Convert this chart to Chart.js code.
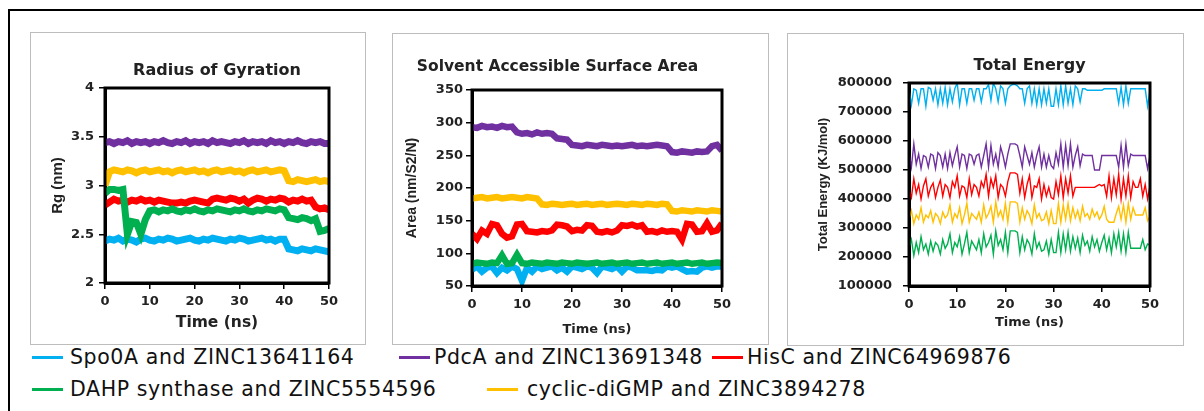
<!DOCTYPE html>
<html>
<head>
<meta charset="utf-8">
<script src="https://cdn.jsdelivr.net/npm/chart.js@4.4.1/dist/chart.umd.min.js"></script>
<style>
  body { margin: 0; background: #fff; width: 1204px; height: 411px; overflow: hidden; position: relative; font-family: "DejaVu Sans", sans-serif; }
  .outer { position: absolute; left: 8px; top: 9px; width: 1300px; height: 500px; border-left: 2.5px solid #000; border-top: 2.5px solid #000; }
  .panel { position: absolute; box-sizing: border-box; border: 1px solid #bdbdbd; background: #fff; }
  .leg { position: absolute; font-size: 20.5px; line-height: 24px; letter-spacing: 0.6px; color: #111; white-space: nowrap; }
  .leg i { display: inline-block; width: 31px; height: 3px; vertical-align: middle; margin-right: 4px; margin-top: -2px; }
</style>
</head>
<body>
<div class="outer"></div>
<div class="panel" style="left:30px;top:32px;width:336px;height:313px"><canvas id="rgChart"></canvas></div>
<div class="panel" style="left:392px;top:33px;width:377px;height:312px"><canvas id="sasaChart"></canvas></div>
<div class="panel" style="left:787px;top:33px;width:397px;height:313px"><canvas id="energyChart"></canvas></div>

<div class="leg" style="left:32px;top:345px"><i style="background:#00B0F0;margin-right:7px"></i>Spo0A and ZINC13641164</div>
<div class="leg" style="left:399px;top:345px"><i style="background:#7030A0"></i>PdcA and ZINC13691348</div>
<div class="leg" style="left:712px;top:345px"><i style="background:#FF0000"></i>HisC and ZINC64969876</div>
<div class="leg" style="left:32px;top:377px"><i style="background:#00B050;margin-right:7px"></i>DAHP synthase and ZINC5554596</div>
<div class="leg" style="left:487px;top:377px"><i style="background:#FFC000;margin-right:9px"></i>cyclic-diGMP and ZINC3894278</div>

<script>
// time axis (ns)
const timeNs = [0,1,2,3,4,5,6,7,8,9,10,11,12,13,14,15,16,17,18,19,20,21,22,23,24,25,26,27,28,29,30,
  31,32,33,34,35,36,37,38,39,40,41,42,43,44,45,46,47,48,49,50];
const timeHalfNs = [0,0.5,1,1.5,2,2.5,3,3.5,4,4.5,5,5.5,6,6.5,7,7.5,8,8.5,9,9.5,
  10,10.5,11,11.5,12,12.5,13,13.5,14,14.5,15,15.5,16,16.5,17,17.5,18,18.5,19,19.5,
  20,20.5,21,21.5,22,22.5,23,23.5,24,24.5,25,25.5,26,26.5,27,27.5,28,28.5,29,29.5,
  30,30.5,31,31.5,32,32.5,33,33.5,34,34.5,35,35.5,36,36.5,37,37.5,38,38.5,39,39.5,
  40,40.5,41,41.5,42,42.5,43,43.5,44,44.5,45,45.5,46,46.5,47,47.5,48,48.5,49,49.5,50];

const timeTicks = [0, 10, 20, 30, 40, 50];
const rgTicks = [2, 2.5, 3, 3.5, 4];
const sasaTicks = [50, 100, 150, 200, 250, 300, 350];
const energyTicks = [100000, 200000, 300000, 400000, 500000, 600000, 700000, 800000];

// Radius of gyration (nm)
const spo0aRg = [2.43,2.45,2.44,2.46,2.43,2.45,2.44,2.42,2.45,2.46,
  2.44,2.43,2.45,2.44,2.46,2.45,2.43,2.44,2.45,2.46,
  2.44,2.43,2.45,2.44,2.46,2.45,2.44,2.43,2.45,2.44,
  2.46,2.45,2.43,2.44,2.45,2.46,2.44,2.45,2.43,2.45,
  2.45,2.35,2.34,2.33,2.35,2.34,2.33,2.35,2.34,2.33,2.32];
const pdcaRg = [3.44,3.45,3.43,3.45,3.44,3.46,3.43,3.45,3.44,3.45,
  3.43,3.45,3.44,3.46,3.44,3.43,3.45,3.44,3.46,3.43,
  3.45,3.44,3.45,3.43,3.46,3.44,3.45,3.44,3.43,3.45,
  3.44,3.46,3.43,3.45,3.44,3.45,3.43,3.46,3.44,3.45,
  3.43,3.45,3.44,3.46,3.44,3.43,3.45,3.44,3.45,3.43,3.43];
const hiscRg = [2.80,2.83,2.86,2.84,2.85,2.83,2.85,2.84,2.86,2.84,
  2.85,2.83,2.85,2.84,2.83,2.82,2.82,2.83,2.82,2.84,
  2.85,2.84,2.83,2.82,2.86,2.87,2.86,2.85,2.87,2.86,
  2.84,2.86,2.82,2.85,2.87,2.86,2.84,2.86,2.85,2.87,
  2.86,2.83,2.85,2.84,2.86,2.84,2.85,2.78,2.76,2.77,2.75];
const dahpRg = [2.92,2.96,2.96,2.95,2.96,2.50,2.63,2.62,2.50,2.65,
  2.74,2.75,2.73,2.75,2.74,2.76,2.74,2.73,2.75,2.74,
  2.76,2.74,2.73,2.75,2.74,2.76,2.75,2.74,2.73,2.75,
  2.74,2.76,2.74,2.73,2.75,2.74,2.76,2.75,2.74,2.76,
  2.75,2.67,2.66,2.65,2.67,2.66,2.64,2.66,2.53,2.54,2.56];
const cyclicRg = [3.00,3.14,3.16,3.15,3.14,3.16,3.15,3.13,3.15,3.16,
  3.14,3.15,3.16,3.14,3.15,3.13,3.15,3.16,3.14,3.15,
  3.16,3.14,3.15,3.13,3.15,3.16,3.14,3.15,3.16,3.14,
  3.15,3.13,3.15,3.16,3.14,3.15,3.16,3.14,3.15,3.16,
  3.15,3.05,3.04,3.06,3.05,3.04,3.05,3.06,3.04,3.05,3.04];

// Solvent accessible surface area
const spo0aSasa = [75,80,72,78,80,70,78,74,80,76,
  58,78,72,80,76,78,80,74,78,72,
  80,78,76,80,78,70,80,78,76,80,
  72,80,78,74,74,74,73,75,74,80,
  78,80,76,72,73,72,78,80,78,80,80];
const pdcaSasa = [293,292,295,293,294,292,295,293,294,285,
  283,284,282,285,283,284,283,276,275,274,
  266,265,264,266,265,264,266,265,264,265,
  264,265,266,264,265,264,265,266,265,264,
  255,254,256,255,254,256,255,256,264,266,257];
const hiscSasa = [130,122,135,130,145,143,130,124,126,144,
  145,134,133,132,134,133,135,144,143,141,
  134,136,135,143,142,133,132,134,132,135,
  143,142,144,141,143,133,134,132,135,133,
  134,133,121,145,144,133,134,146,133,135,146];
const dahpSasa = [84,86,85,84,86,85,97,84,85,98,
  85,84,86,85,84,86,85,84,86,85,
  84,86,85,84,85,86,84,85,86,84,
  85,86,84,85,86,84,85,86,84,85,
  86,84,85,86,84,85,86,84,85,86,85];
const cyclicSasa = [184,185,186,184,185,186,184,185,186,185,
  184,186,185,184,175,174,176,175,174,175,
  176,174,175,176,174,175,176,174,175,176,
  175,174,176,175,174,176,175,174,176,175,
  165,164,166,165,164,166,165,164,166,165,164];

// Total energy (KJ/mol), every 0.5 ns
const spo0aEnergy = [780000,725000,780000,775000,730000,780000,780000,720000,785000,780000,
  740000,780000,725000,780000,730000,785000,725000,780000,735000,780000,
  800000,725000,780000,780000,730000,780000,780000,740000,780000,780000,
  735000,780000,780000,795000,740000,800000,780000,735000,790000,780000,
  730000,780000,790000,795000,795000,790000,780000,780000,730000,780000,
  790000,730000,780000,725000,780000,725000,780000,730000,780000,720000,
  720000,780000,725000,790000,725000,790000,730000,780000,725000,790000,
  780000,735000,780000,780000,775000,775000,775000,775000,775000,775000,
  775000,780000,780000,780000,780000,780000,780000,730000,785000,725000,
  790000,730000,780000,780000,780000,780000,780000,780000,780000,720000,775000];
const pdcaEnergy = [560000,510000,590000,520000,555000,505000,550000,545000,510000,555000,
  550000,505000,560000,550000,510000,555000,505000,560000,515000,550000,
  580000,510000,555000,550000,505000,555000,550000,520000,550000,555000,
  510000,550000,590000,510000,585000,520000,555000,510000,580000,550000,
  510000,555000,590000,590000,590000,585000,550000,510000,580000,550000,
  520000,560000,510000,550000,580000,510000,555000,510000,550000,515000,
  505000,560000,520000,590000,510000,585000,515000,590000,510000,550000,
  580000,515000,555000,550000,550000,550000,550000,500000,500000,500000,
  550000,550000,550000,550000,550000,550000,550000,510000,585000,510000,
  590000,515000,555000,550000,550000,550000,550000,550000,550000,505000,550000];
const hiscEnergy = [430000,405000,470000,420000,450000,400000,445000,470000,410000,440000,
  455000,405000,440000,465000,410000,450000,440000,405000,460000,440000,
  480000,410000,445000,440000,405000,470000,415000,450000,440000,410000,
  460000,440000,485000,410000,470000,440000,480000,405000,450000,440000,
  410000,460000,490000,490000,490000,485000,420000,470000,405000,450000,
  480000,405000,445000,440000,470000,400000,450000,410000,440000,405000,
  400000,460000,415000,480000,405000,470000,420000,480000,410000,440000,
  440000,440000,440000,440000,440000,440000,440000,440000,445000,450000,
  445000,450000,410000,480000,405000,470000,415000,485000,400000,470000,
  410000,480000,405000,460000,440000,440000,470000,410000,450000,400000,445000];
const dahpEnergy = [230000,260000,205000,250000,215000,270000,225000,245000,210000,255000,
  220000,250000,240000,210000,260000,230000,245000,280000,215000,250000,
  235000,270000,210000,245000,285000,215000,255000,240000,225000,260000,
  215000,280000,235000,250000,275000,210000,290000,240000,260000,225000,
  285000,215000,290000,290000,290000,285000,215000,270000,225000,260000,
  245000,210000,280000,230000,250000,220000,225000,255000,210000,260000,
  215000,215000,285000,215000,280000,225000,285000,220000,270000,230000,
  265000,215000,275000,240000,255000,220000,270000,235000,260000,220000,
  250000,275000,225000,265000,215000,280000,235000,285000,220000,280000,
  215000,285000,230000,230000,230000,230000,230000,260000,225000,245000,240000];
const cyclicEnergy = [330000,360000,315000,345000,330000,370000,320000,345000,335000,360000,
  320000,350000,340000,315000,355000,335000,345000,380000,320000,350000,
  335000,370000,315000,345000,385000,320000,350000,340000,330000,355000,
  320000,380000,335000,350000,375000,320000,390000,340000,360000,330000,
  385000,320000,390000,390000,390000,385000,320000,370000,330000,360000,
  345000,315000,380000,335000,350000,325000,330000,355000,315000,360000,
  315000,315000,385000,320000,380000,330000,385000,325000,370000,335000,
  360000,325000,375000,340000,350000,330000,365000,340000,355000,330000,
  345000,375000,330000,320000,320000,320000,350000,375000,330000,380000,
  320000,385000,330000,370000,345000,345000,345000,345000,370000,325000,340000];

const seriesColors = { spo0a: '#00B0F0', pdca: '#7030A0', hisc: '#FF0000', dahp: '#00B050', cyclic: '#FFC000' };

function pts(times, values) {
  return times.map((t, i) => ({ x: t, y: values[i] }));
}

// black box around the plot area
const frameBox = {
  id: 'frameBox',
  afterDraw(chart) {
    const a = chart.chartArea, ctx = chart.ctx;
    ctx.save();
    ctx.strokeStyle = '#000';
    ctx.lineWidth = 3;
    ctx.strokeRect(a.left, a.top, a.right - a.left, a.bottom - a.top);
    ctx.restore();
  }
};

function makeChart(id, cfg) {
  const tickFont = { family: 'DejaVu Sans', weight: 'bold', size: 13 };
  new Chart(document.getElementById(id), {
    type: 'line',
    data: { datasets: cfg.datasets },
    plugins: [frameBox],
    options: {
      responsive: true,
      maintainAspectRatio: false,
      animation: false,
      events: [],
      layout: { padding: { left: 0, right: cfg.padRight, top: 0, bottom: 0 } },
      elements: { point: { radius: 0 }, line: { tension: 0 } },
      plugins: {
        legend: { display: false },
        tooltip: { enabled: false },
        title: {
          display: true, text: cfg.title, fullSize: cfg.titleFull, color: '#222',
          font: { family: 'DejaVu Sans', weight: 'bold', size: cfg.titleSize },
          padding: { top: cfg.titlePad[0], bottom: cfg.titlePad[1] }
        }
      },
      scales: {
        x: {
          type: 'linear', min: 0, max: 50,
          afterBuildTicks: ax => { ax.ticks = timeTicks.map(v => ({ value: v })); },
          afterFit: s => { s.height = cfg.xHeight; },
          ticks: { color: '#222', font: tickFont, padding: 5.2, maxRotation: 0 },
          grid: { drawOnChartArea: false, color: '#000', lineWidth: 1.5, tickLength: 6 },
          border: { color: '#000', width: 3 },
          title: {
            display: true, text: 'Time (ns)', color: '#222',
            font: { family: 'DejaVu Sans', weight: 'bold', size: cfg.xTitleSize },
            padding: { top: 0, bottom: cfg.xTitlePad }
          }
        },
        y: {
          type: 'linear', min: cfg.yTicks[0], max: cfg.yTicks[cfg.yTicks.length - 1],
          afterBuildTicks: ax => { ax.ticks = cfg.yTicks.map(v => ({ value: v })); },
          afterFit: s => { s.width = cfg.yWidth; },
          ticks: { color: '#222', font: tickFont, padding: cfg.yTickPad, callback: v => String(v) },
          grid: { drawOnChartArea: false, color: '#000', lineWidth: 1.5, tickLength: 6 },
          border: { color: '#000', width: 3 },
          title: {
            display: true, text: cfg.yTitle, color: '#222',
            font: { family: 'Liberation Sans', weight: 'bold', size: cfg.yTitleSize },
            padding: { top: cfg.yTitlePad, bottom: 0 }
          }
        }
      }
    }
  });
}

function ds(data, color, width, order) {
  return { data: data, borderColor: color, backgroundColor: color, borderWidth: width, order: order, fill: false };
}

makeChart('rgChart', {
  title: 'Radius of Gyration', titleSize: 16, titlePad: [28.4, 7.4], titleFull: false,
  padRight: 36, yWidth: 74, xHeight: 61, yTickPad: 5,
  yTicks: rgTicks, yTitle: 'Rg (nm)', yTitleSize: 15, yTitlePad: 18,
  xTitleSize: 15.5, xTitlePad: 11.5,
  datasets: [
    ds(pts(timeNs, spo0aRg), seriesColors.spo0a, 7, 4),
    ds(pts(timeNs, pdcaRg), seriesColors.pdca, 7, 3),
    ds(pts(timeNs, hiscRg), seriesColors.hisc, 7, 2),
    ds(pts(timeNs, dahpRg), seriesColors.dahp, 7, 1),
    ds(pts(timeNs, cyclicRg), seriesColors.cyclic, 7, 0)
  ]
});

makeChart('sasaChart', {
  title: 'Solvent Accessible Surface Area', titleSize: 15.5, titlePad: [23.7, 13.7], titleFull: true,
  padRight: 46, yWidth: 79, xHeight: 58, yTickPad: 3,
  yTicks: sasaTicks, yTitle: 'Area (nm/S2/N)', yTitleSize: 14, yTitlePad: 10.6,
  xTitleSize: 13, xTitlePad: 6.2,
  datasets: [
    ds(pts(timeNs, spo0aSasa), seriesColors.spo0a, 6.5, 4),
    ds(pts(timeNs, pdcaSasa), seriesColors.pdca, 6.5, 3),
    ds(pts(timeNs, hiscSasa), seriesColors.hisc, 6.5, 2),
    ds(pts(timeNs, dahpSasa), seriesColors.dahp, 6.5, 1),
    ds(pts(timeNs, cyclicSasa), seriesColors.cyclic, 6.5, 0)
  ]
});

makeChart('energyChart', {
  title: 'Total Energy', titleSize: 16, titlePad: [22.4, 7.4], titleFull: false,
  padRight: 33, yWidth: 121, xHeight: 59, yTickPad: 11,
  yTicks: energyTicks, yTitle: 'Total Energy (KJ/mol)', yTitleSize: 13, yTitlePad: 27.2,
  xTitleSize: 13, xTitlePad: 14.2,
  datasets: [
    ds(pts(timeHalfNs, spo0aEnergy), seriesColors.spo0a, 1.4, 4),
    ds(pts(timeHalfNs, pdcaEnergy), seriesColors.pdca, 1.4, 3),
    ds(pts(timeHalfNs, hiscEnergy), seriesColors.hisc, 1.4, 2),
    ds(pts(timeHalfNs, dahpEnergy), seriesColors.dahp, 1.4, 1),
    ds(pts(timeHalfNs, cyclicEnergy), seriesColors.cyclic, 1.4, 0)
  ]
});
</script>
</body>
</html>
